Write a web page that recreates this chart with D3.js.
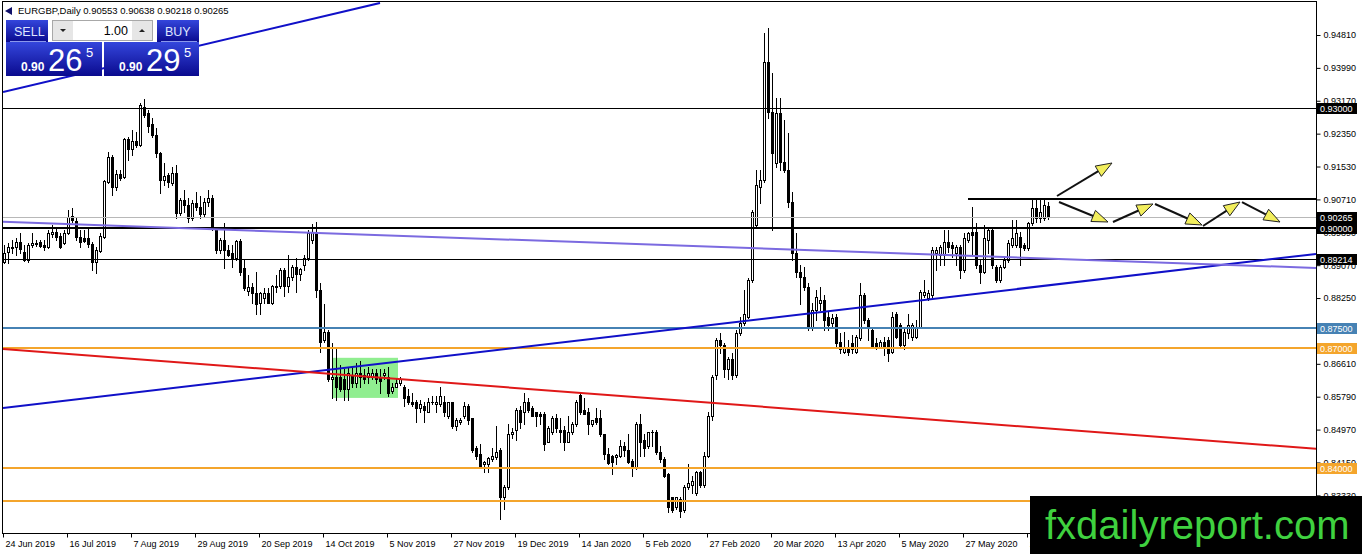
<!DOCTYPE html>
<html lang="en">
<head>
<meta charset="UTF-8">
<title>EURGBP, Daily</title>
<script src="https://cdnjs.cloudflare.com/ajax/libs/d3/7.8.5/d3.min.js"></script>
<style>
  body { margin: 0; background: #fff; }
  svg { display: block; font-family: "Liberation Sans", Arial, sans-serif; }
</style>
</head>
<body>
<svg id="chart" width="1362" height="554"></svg>
<script>
// ---- data ----
const symbol = "EURGBP,Daily";
const firstDate = "2019-06-24";
const holidays = ["12-25", "01-01"];
const bid = 0.90265, ask = 0.90295;

const opens = [
  0.8916,0.8940,0.8950,0.8953,0.8965,0.8940,0.8921,0.8958,0.8960,0.8965,
  0.8958,0.8953,0.8985,0.8990,0.8980,0.8963,0.8988,0.9030,0.9018,0.8978,
  0.8975,0.8975,0.8960,0.8916,0.8943,0.8978,0.9115,0.9177,0.9102,0.9135,
  0.9127,0.9222,0.9197,0.9217,0.9207,0.9302,0.9287,0.9259,0.9232,0.9187,
  0.9120,0.9132,0.9112,0.9137,0.9038,0.9070,0.9058,0.9025,0.9063,0.9053,
  0.9035,0.9065,0.9075,0.8995,0.8945,0.8970,0.8945,0.8938,0.8926,0.8968,
  0.8901,0.8843,0.8853,0.8838,0.8813,0.8826,0.8838,0.8813,0.8853,0.8856,
  0.8896,0.8856,0.8878,0.8903,0.8886,0.8908,0.8926,0.8970,0.8990,0.8846,
  0.8721,0.8741,0.8624,0.8629,0.8627,0.8622,0.8597,0.8634,0.8614,0.8639,
  0.8634,0.8627,0.8629,0.8639,0.8629,0.8632,0.8629,0.8592,0.8604,0.8614,
  0.8604,0.8580,0.8567,0.8565,0.8550,0.8555,0.8542,0.8565,0.8562,0.8560,
  0.8567,0.8530,0.8565,0.8505,0.8515,0.8530,0.8555,0.8525,0.8452,0.8437,
  0.8410,0.8410,0.8423,0.8428,0.8447,0.8330,0.8353,0.8485,0.8497,0.8545,
  0.8540,0.8567,0.8552,0.8540,0.8537,0.8537,0.8467,0.8490,0.8527,0.8497,
  0.8497,0.8467,0.8490,0.8510,0.8584,0.8547,0.8542,0.8510,0.8527,0.8527,
  0.8485,0.8437,0.8430,0.8428,0.8430,0.8455,0.8447,0.8418,0.8403,0.8510,
  0.8472,0.8455,0.8490,0.8492,0.8442,0.8423,0.8385,0.8328,0.8303,0.8323,
  0.8296,0.8355,0.8360,0.8340,0.8390,0.8360,0.8430,0.8530,0.8632,0.8721,
  0.8709,0.8647,0.8672,0.8634,0.8739,0.8764,0.8779,0.8871,0.9008,0.9102,
  0.9120,0.9414,0.9289,0.9162,0.9287,0.9165,0.9145,0.9065,0.8938,0.8891,
  0.8878,0.8853,0.8751,0.8796,0.8813,0.8821,0.8779,0.8764,0.8779,0.8716,
  0.8691,0.8704,0.8714,0.8691,0.8726,0.8833,0.8771,0.8746,0.8714,0.8704,
  0.8716,0.8721,0.8691,0.8784,0.8759,0.8709,0.8739,0.8729,0.8729,0.8754,
  0.8833,0.8826,0.8833,0.8938,0.8933,0.8933,0.8965,0.8958,0.8938,0.8953,
  0.8896,0.8970,0.8990,0.8990,0.8908,0.8891,0.8970,0.8995,0.8903,0.8871,
  0.8903,0.8921,0.8958,0.8958,0.8978,0.8958,0.8950,0.9013,0.9050,0.9025,
  0.9025,0.90553
];
const highs = [
  0.8958,0.8963,0.8970,0.8975,0.8988,0.8958,0.8963,0.8988,0.8970,0.8970,
  0.8970,0.8995,0.9008,0.9003,0.8988,0.8995,0.9045,0.9050,0.9025,0.8995,
  0.8995,0.9000,0.8965,0.8953,0.8988,0.9120,0.9190,0.9182,0.9145,0.9145,
  0.9224,0.9227,0.9244,0.9239,0.9312,0.9322,0.9294,0.9274,0.9249,0.9190,
  0.9162,0.9137,0.9152,0.9157,0.9075,0.9095,0.9075,0.9070,0.9090,0.9080,
  0.9075,0.9095,0.9082,0.9000,0.8975,0.9013,0.8958,0.8958,0.8970,0.8973,
  0.8921,0.8883,0.8863,0.8891,0.8841,0.8851,0.8851,0.8858,0.8883,0.8901,
  0.8901,0.8933,0.8908,0.8926,0.8901,0.8933,0.8995,0.9010,0.9015,0.8863,
  0.8809,0.8746,0.8714,0.8697,0.8659,0.8647,0.8652,0.8654,0.8664,0.8667,
  0.8647,0.8652,0.8647,0.8647,0.8647,0.8647,0.8654,0.8614,0.8622,0.8627,
  0.8609,0.8597,0.8589,0.8572,0.8572,0.8565,0.8577,0.8580,0.8580,0.8602,
  0.8580,0.8567,0.8567,0.8527,0.8527,0.8567,0.8560,0.8527,0.8455,0.8460,
  0.8418,0.8428,0.8452,0.8505,0.8450,0.8360,0.8510,0.8502,0.8552,0.8555,
  0.8589,0.8577,0.8555,0.8542,0.8542,0.8540,0.8505,0.8530,0.8535,0.8527,
  0.8505,0.8530,0.8517,0.8572,0.8589,0.8577,0.8552,0.8522,0.8552,0.8547,
  0.8487,0.8452,0.8433,0.8435,0.8472,0.8467,0.8485,0.8423,0.8515,0.8535,
  0.8485,0.8492,0.8497,0.8495,0.8455,0.8428,0.8388,0.8330,0.8330,0.8328,
  0.8360,0.8410,0.8380,0.8393,0.8393,0.8440,0.8540,0.8634,0.8726,0.8739,
  0.8714,0.8679,0.8689,0.8746,0.8779,0.8846,0.8876,0.9045,0.9145,0.9145,
  0.9486,0.9498,0.9386,0.9324,0.9324,0.9269,0.9237,0.9090,0.8988,0.8908,
  0.8903,0.8863,0.8813,0.8846,0.8853,0.8833,0.8791,0.8784,0.8784,0.8739,
  0.8741,0.8721,0.8734,0.8734,0.8863,0.8838,0.8776,0.8754,0.8726,0.8721,
  0.8729,0.8729,0.8791,0.8789,0.8764,0.8754,0.8784,0.8764,0.8771,0.8846,
  0.8871,0.8846,0.8953,0.8953,0.8958,0.8995,0.8995,0.8965,0.8958,0.8958,
  0.8988,0.8990,0.9053,0.9013,0.8921,0.9008,0.9003,0.9000,0.8908,0.8908,
  0.8928,0.8970,0.9020,0.9020,0.8990,0.8963,0.9015,0.9070,0.9070,0.9070,
  0.9070,0.90638
];
const lows = [
  0.8913,0.8913,0.8938,0.8933,0.8938,0.8918,0.8916,0.8953,0.8955,0.8953,
  0.8945,0.8950,0.8978,0.8970,0.8950,0.8960,0.8985,0.9015,0.8970,0.8953,
  0.8965,0.8953,0.8896,0.8888,0.8940,0.8975,0.9112,0.9082,0.9095,0.9120,
  0.9125,0.9170,0.9182,0.9202,0.9205,0.9277,0.9239,0.9227,0.9177,0.9087,
  0.9107,0.9102,0.9107,0.9025,0.9033,0.9040,0.9015,0.9020,0.9045,0.9025,
  0.9030,0.9055,0.8995,0.8938,0.8938,0.8901,0.8931,0.8903,0.8921,0.8883,
  0.8846,0.8833,0.8813,0.8784,0.8784,0.8813,0.8813,0.8809,0.8841,0.8851,
  0.8831,0.8841,0.8871,0.8841,0.8871,0.8896,0.8921,0.8963,0.8828,0.8691,
  0.8716,0.8617,0.8577,0.8572,0.8592,0.8572,0.8572,0.8602,0.8602,0.8604,
  0.8614,0.8614,0.8622,0.8614,0.8589,0.8622,0.8580,0.8589,0.8602,0.8609,
  0.8555,0.8560,0.8555,0.8517,0.8542,0.8517,0.8540,0.8560,0.8540,0.8555,
  0.8530,0.8527,0.8502,0.8497,0.8510,0.8527,0.8510,0.8442,0.8423,0.8403,
  0.8390,0.8390,0.8418,0.8423,0.8273,0.8298,0.8348,0.8477,0.8472,0.8502,
  0.8510,0.8540,0.8530,0.8505,0.8510,0.8447,0.8465,0.8485,0.8490,0.8465,
  0.8447,0.8465,0.8485,0.8505,0.8535,0.8535,0.8485,0.8505,0.8512,0.8480,
  0.8423,0.8410,0.8385,0.8410,0.8428,0.8430,0.8413,0.8380,0.8398,0.8430,
  0.8430,0.8452,0.8455,0.8435,0.8415,0.8378,0.8291,0.8291,0.8298,0.8278,
  0.8291,0.8350,0.8340,0.8335,0.8355,0.8355,0.8428,0.8522,0.8622,0.8689,
  0.8627,0.8622,0.8622,0.8629,0.8734,0.8759,0.8776,0.8866,0.9000,0.9063,
  0.9115,0.9274,0.8995,0.9152,0.9145,0.9140,0.9053,0.8921,0.8878,0.8809,
  0.8846,0.8746,0.8746,0.8771,0.8796,0.8746,0.8746,0.8751,0.8701,0.8689,
  0.8689,0.8684,0.8689,0.8689,0.8721,0.8764,0.8721,0.8701,0.8697,0.8701,
  0.8684,0.8667,0.8689,0.8726,0.8704,0.8697,0.8726,0.8721,0.8726,0.8751,
  0.8828,0.8821,0.8828,0.8896,0.8908,0.8908,0.8940,0.8928,0.8908,0.8876,
  0.8891,0.8965,0.8933,0.8901,0.8863,0.8888,0.8938,0.8901,0.8866,0.8866,
  0.8901,0.8916,0.8953,0.8953,0.8908,0.8945,0.8945,0.9008,0.9015,0.9015,
  0.9020,0.90218
];
const closes = [
  0.8938,0.8953,0.8953,0.8965,0.8948,0.8921,0.8958,0.8963,0.8963,0.8955,
  0.8953,0.8988,0.8990,0.8978,0.8953,0.8988,0.9028,0.9020,0.8978,0.8965,
  0.8968,0.8960,0.8916,0.8945,0.8980,0.9117,0.9177,0.9102,0.9135,0.9125,
  0.9222,0.9197,0.9217,0.9207,0.9307,0.9282,0.9254,0.9232,0.9187,0.9120,
  0.9130,0.9115,0.9137,0.9038,0.9070,0.9058,0.9025,0.9063,0.9053,0.9035,
  0.9065,0.9075,0.9000,0.8945,0.8970,0.8945,0.8933,0.8926,0.8968,0.8891,
  0.8851,0.8853,0.8838,0.8809,0.8838,0.8838,0.8813,0.8856,0.8856,0.8896,
  0.8856,0.8878,0.8903,0.8886,0.8898,0.8926,0.8988,0.8990,0.8846,0.8716,
  0.8741,0.8622,0.8629,0.8602,0.8597,0.8597,0.8639,0.8614,0.8639,0.8627,
  0.8622,0.8639,0.8639,0.8622,0.8619,0.8639,0.8589,0.8604,0.8614,0.8622,
  0.8577,0.8565,0.8560,0.8552,0.8560,0.8547,0.8565,0.8567,0.8567,0.8580,
  0.8542,0.8565,0.8505,0.8520,0.8520,0.8555,0.8522,0.8447,0.8430,0.8405,
  0.8415,0.8425,0.8430,0.8442,0.8330,0.8355,0.8485,0.8492,0.8545,0.8515,
  0.8567,0.8547,0.8532,0.8532,0.8532,0.8460,0.8502,0.8527,0.8500,0.8492,
  0.8467,0.8492,0.8510,0.8567,0.8540,0.8537,0.8510,0.8520,0.8517,0.8485,
  0.8435,0.8413,0.8415,0.8433,0.8455,0.8447,0.8415,0.8403,0.8510,0.8467,
  0.8452,0.8490,0.8492,0.8440,0.8423,0.8380,0.8303,0.8296,0.8328,0.8293,
  0.8353,0.8365,0.8368,0.8390,0.8360,0.8430,0.8530,0.8627,0.8721,0.8709,
  0.8647,0.8672,0.8634,0.8739,0.8764,0.8784,0.8871,0.9040,0.9107,0.9120,
  0.9414,0.9289,0.9187,0.9287,0.9165,0.9145,0.9065,0.8938,0.8891,0.8878,
  0.8853,0.8751,0.8796,0.8828,0.8821,0.8771,0.8759,0.8776,0.8714,0.8697,
  0.8704,0.8691,0.8697,0.8729,0.8833,0.8771,0.8751,0.8704,0.8704,0.8716,
  0.8704,0.8689,0.8779,0.8729,0.8709,0.8741,0.8759,0.8759,0.8754,0.8841,
  0.8841,0.8838,0.8945,0.8945,0.8953,0.8965,0.8953,0.8950,0.8953,0.8896,
  0.8975,0.8988,0.8983,0.8908,0.8891,0.8975,0.8995,0.8908,0.8871,0.8903,
  0.8921,0.8963,0.8975,0.8988,0.8953,0.8950,0.9013,0.9050,0.9025,0.9040,
  0.9058,0.90265
];

// price scale labels and date labels every 16 bars
const priceTicks = [0.9481, 0.9399, 0.9317, 0.9235, 0.9153, 0.9071, 0.8989, 0.8907,
                    0.8825, 0.8743, 0.8661, 0.8579, 0.8497, 0.8415, 0.8333];
const dateTickStep = 16;

// horizontal levels
const levelPrices = [0.93, 0.90, 0.89214, 0.875, 0.87, 0.84, 0.832];
const levelColors = ["#000", "#000", "#000", "#4682b4", "#f4a52c", "#f4a52c", "#f4a52c"];
const levelWidths = [1, 2, 1, 2, 2, 2, 2];

// trendlines: [bar1, price1, bar2, price2]
const trendLines = [
  [0, 0.9339, 94.25, 0.9561],
  [0, 0.8551, 328.25, 0.8935],
  [0, 0.9015, 328.25, 0.8900],
  [0, 0.8698, 328.25, 0.8449]
];
const trendColors = ["#1010c8", "#1010c8", "#7b6ae0", "#e01818"];

// resistance segment and box
const resistance = [241.25, 0.9073];
const greenBox = [82.25, 0.8676, 98.75, 0.8576];

// scenario arrows: [bar1, price1, bar2, price2]
const arrows = [
  [263.5, 0.90795, 277.25, 0.91618],
  [264, 0.90645, 276.25, 0.90147],
  [277.5, 0.90147, 287.5, 0.90596],
  [288, 0.90596, 299.75, 0.90072],
  [300, 0.90047, 309.25, 0.90645],
  [309.75, 0.90645, 319.25, 0.90147]
];

// ---- dates (weekdays, without Christmas / New Year) ----
const dates = [];
const cur = new Date(firstDate + "T00:00:00Z");
while (dates.length < closes.length + 8) {
  const wd = cur.getUTCDay();
  const md = d3.utcFormat("%m-%d")(cur);
  if (wd !== 0 && wd !== 6 && !holidays.includes(md)) dates.push(new Date(cur));
  cur.setUTCDate(cur.getUTCDate() + 1);
}
const fmtDate = d3.utcFormat("%-d %b %Y");
const fmtPrice = d3.format(".5f");

// ---- scales ----
const svg = d3.select("#chart");
const x = d3.scaleLinear().domain([0, 328.25]).range([3, 1316]);
const y = d3.scaleLinear().domain([0.82391, 0.95633]).range([533, 2]);

svg.append("rect").attr("width", 1362).attr("height", 554).attr("fill", "#fff");

const defs = svg.append("defs");
defs.append("clipPath").attr("id", "plot")
  .append("rect").attr("x", 3).attr("y", 2).attr("width", 1313).attr("height", 531);
// the watermark covers the dates to the right of x = 1030
defs.append("clipPath").attr("id", "dateclip")
  .append("rect").attr("x", 0).attr("y", 530).attr("width", 1030).attr("height", 24);
const grad = defs.append("linearGradient").attr("id", "btn").attr("x1", 0).attr("y1", 0).attr("x2", 0).attr("y2", 1);
grad.append("stop").attr("offset", "0%").attr("stop-color", "#3446dc");
grad.append("stop").attr("offset", "100%").attr("stop-color", "#0a0a8e");

const plot = svg.append("g").attr("clip-path", "url(#plot)");

// green box behind candles
plot.append("rect")
  .attr("x", x(greenBox[0])).attr("y", y(greenBox[1]))
  .attr("width", x(greenBox[2]) - x(greenBox[0]))
  .attr("height", y(greenBox[3]) - y(greenBox[1]))
  .attr("fill", "#90ee90");

// candles
const bars = d3.range(closes.length).map(i => ({
  i, o: opens[i], h: highs[i], l: lows[i], c: closes[i]
}));
const cg = plot.append("g");
bars.forEach(b => {
  const px = Math.round(x(b.i));
  const top = Math.round(y(Math.max(b.o, b.c)));
  const bot = Math.round(y(Math.min(b.o, b.c)));
  const hi = Math.round(y(Math.max(b.h, b.o, b.c)));
  const lo = Math.round(y(Math.min(b.l, b.o, b.c)));
  cg.append("line")
    .attr("x1", px + 1.5).attr("x2", px + 1.5)
    .attr("y1", hi).attr("y2", lo + 1)
    .attr("stroke", "#000").attr("stroke-width", 1);
  if (bot - top < 1) {
    cg.append("line").attr("x1", px).attr("x2", px + 3)
      .attr("y1", top + 0.5).attr("y2", top + 0.5).attr("stroke", "#000");
  } else {
    cg.append("rect")
      .attr("x", px + 0.5).attr("y", top + 0.5)
      .attr("width", 2).attr("height", bot - top)
      .attr("fill", b.c >= b.o ? "#fff" : "#000")
      .attr("stroke", "#000").attr("stroke-width", 1);
  }
});

// bid line
plot.append("line")
  .attr("x1", 3).attr("x2", 1316)
  .attr("y1", Math.round(y(bid)) + 0.5).attr("y2", Math.round(y(bid)) + 0.5)
  .attr("stroke", "#b8b8b8").attr("stroke-width", 1);

// horizontal levels
levelPrices.forEach((p, k) => {
  const yy = Math.round(y(p)) + (levelWidths[k] === 1 ? 0.5 : 0);
  plot.append("line")
    .attr("x1", 3).attr("x2", 1316).attr("y1", yy).attr("y2", yy)
    .attr("stroke", levelColors[k]).attr("stroke-width", levelWidths[k]);
});

// resistance segment
plot.append("line")
  .attr("x1", x(resistance[0])).attr("x2", 1316)
  .attr("y1", Math.round(y(resistance[1]))).attr("y2", Math.round(y(resistance[1])))
  .attr("stroke", "#000").attr("stroke-width", 2);

// trendlines
trendLines.forEach((t, k) => {
  plot.append("line")
    .attr("x1", x(t[0])).attr("y1", y(t[1]))
    .attr("x2", x(t[2])).attr("y2", y(t[3]))
    .attr("stroke", trendColors[k]).attr("stroke-width", 2);
});

// arrows
arrows.forEach(a => {
  const x1 = x(a[0]), y1 = y(a[1]), x2 = x(a[2]), y2 = y(a[3]);
  const len = Math.hypot(x2 - x1, y2 - y1);
  const ux = (x2 - x1) / len, uy = (y2 - y1) / len;
  const hl = 16, hw = 6;
  const bx = x2 - ux * hl, by = y2 - uy * hl;
  plot.append("line")
    .attr("x1", x1).attr("y1", y1).attr("x2", bx + ux * 2).attr("y2", by + uy * 2)
    .attr("stroke", "#111").attr("stroke-width", 2);
  plot.append("polygon")
    .attr("points", [[x2, y2], [bx - uy * hw, by + ux * hw], [bx + uy * hw, by - ux * hw]].map(p => p.join(",")).join(" "))
    .attr("fill", "#f2ee5c").attr("stroke", "#222").attr("stroke-width", 1);
});

// ---- axes ----
const xAxis = d3.axisBottom(x)
  .tickValues(d3.range(0, closes.length, dateTickStep))
  .tickSize(4).tickSizeOuter(0)
  .tickFormat(i => fmtDate(dates[i]));
svg.append("g").attr("clip-path", "url(#dateclip)")
  .append("g").attr("transform", "translate(0,533.5)").call(xAxis)
  .call(g => g.select(".domain").remove())
  .call(g => g.selectAll("text").attr("x", 2).attr("text-anchor", "start"))
  .attr("font-family", "'Liberation Sans', Arial, sans-serif").attr("font-size", 9);

const yAxis = d3.axisRight(y).tickValues(priceTicks).tickSize(4).tickFormat(fmtPrice);
svg.append("g").attr("transform", "translate(1316.5,0)").call(yAxis)
  .call(g => g.select(".domain").remove())
  .attr("font-family", "'Liberation Sans', Arial, sans-serif").attr("font-size", 9);

// frame
svg.append("rect").attr("x", 2.5).attr("y", 1.5).attr("width", 1314).attr("height", 532)
  .attr("fill", "none").attr("stroke", "#000").attr("stroke-width", 1);

// level labels on price scale
const tags = levelPrices.map((p, k) => ({ p, bg: levelColors[k] }));
tags.push({ p: bid, bg: "#000" });
tags.forEach(t => {
  const yy = Math.round(y(t.p));
  svg.append("rect").attr("x", 1317).attr("y", yy - 5).attr("width", 40).attr("height", 11).attr("fill", t.bg);
  svg.append("text").attr("x", 1320).attr("y", yy + 4)
    .attr("font-size", 9).attr("fill", "#fff").text(fmtPrice(t.p));
});

// ---- header ----
const last = closes.length - 1;
svg.append("path").attr("d", "M5,11 L12,7 L12,15 Z").attr("fill", "#10106a");
svg.append("text").attr("x", 18).attr("y", 14).attr("font-size", 9.5).attr("fill", "#000")
  .text(`${symbol}  ${fmtPrice(opens[last])} ${fmtPrice(highs[last])} ${fmtPrice(lows[last])} ${fmtPrice(closes[last])}`);

// ---- one-click trading panel ----
const panel = svg.append("g");
function priceBox(x0, w, price, label, hx, lx) {
  panel.append("rect").attr("x", hx).attr("y", 20).attr("width", 42).attr("height", 22).attr("fill", "url(#btn)");
  panel.append("line").attr("x1", hx + 4).attr("x2", hx + 40)
    .attr("y1", 41.5).attr("y2", 41.5).attr("stroke", "#8a98ec");
  panel.append("text").attr("x", lx).attr("y", 36).attr("font-size", 12.5).attr("fill", "#dfe6ff").text(label);
  panel.append("rect").attr("x", x0).attr("y", 42).attr("width", w).attr("height", 34).attr("fill", "url(#btn)");
  const s = fmtPrice(price);
  panel.append("text").attr("x", x0 + 15).attr("y", 71).attr("font-size", 12).attr("font-weight", "bold")
    .attr("fill", "#fff").text(s.slice(0, 4));
  panel.append("text").attr("x", x0 + 42).attr("y", 71).attr("font-size", 31)
    .attr("fill", "#fff").text(s.slice(4, 6));
  panel.append("text").attr("x", x0 + 80).attr("y", 57).attr("font-size", 13)
    .attr("fill", "#fff").text(s.slice(6));
}
priceBox(6, 96, bid, "SELL", 6, 14);
priceBox(104, 95, ask, "BUY", 157, 165);
panel.append("rect").attr("x", 52.5).attr("y", 20.5).attr("width", 100).attr("height", 20)
  .attr("fill", "#fff").attr("stroke", "#a8a8a8");
[[53, "M60,29 L66,29 L63,32 Z"], [132, "M139,32 L145,32 L142,29 Z"]].forEach(([bx, d]) => {
  panel.append("rect").attr("x", bx).attr("y", 21).attr("width", 20).attr("height", 19).attr("fill", "#e6e6e6");
  panel.append("path").attr("d", d).attr("fill", "#222");
});
panel.append("text").attr("x", 128).attr("y", 35).attr("text-anchor", "end")
  .attr("font-size", 12.5).attr("fill", "#000").text("1.00");

// ---- watermark ----
svg.append("rect").attr("x", 1030).attr("y", 496).attr("width", 332).attr("height", 58).attr("fill", "#000");
svg.append("text").attr("x", 1045).attr("y", 539).attr("font-size", 40).attr("fill", "#3fd13f")
  .text("fxdailyreport.com");
</script>
</body>
</html>
